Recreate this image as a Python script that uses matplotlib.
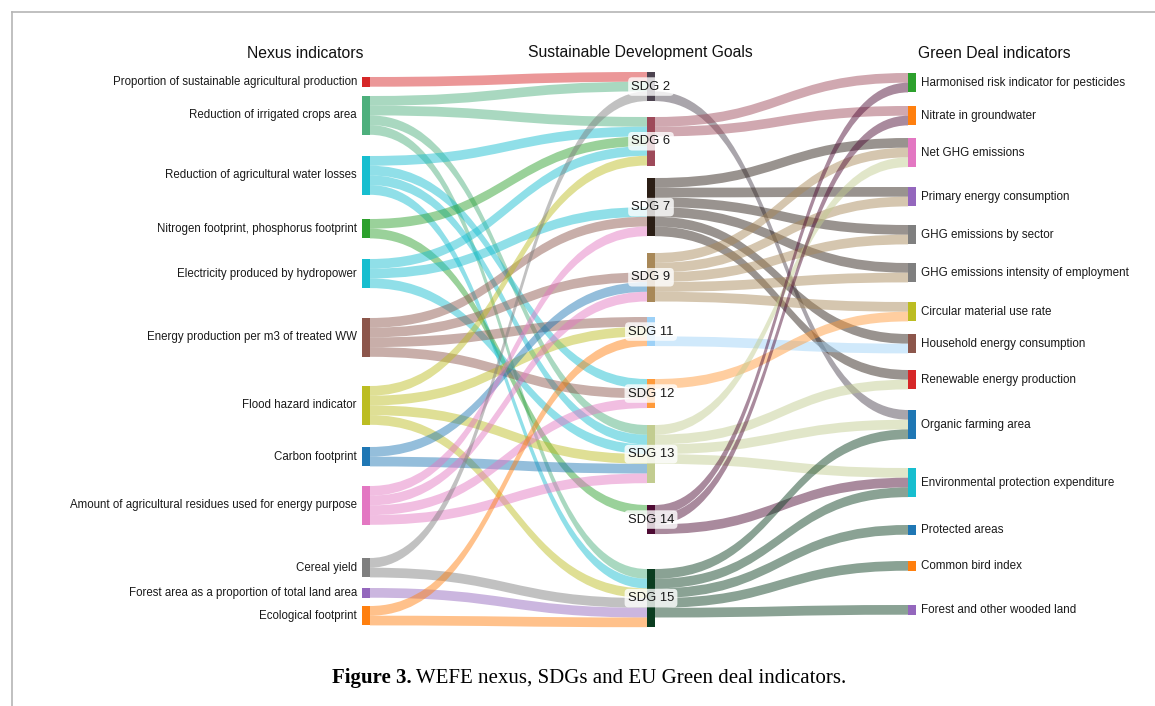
import matplotlib
matplotlib.use("Agg")
import matplotlib.pyplot as plt
from matplotlib.path import Path
from matplotlib.patches import PathPatch, Rectangle

# ---- data ----
nexus = [
    "Proportion of sustainable agricultural production",
    "Reduction of irrigated crops area",
    "Reduction of agricultural water losses",
    "Nitrogen footprint, phosphorus footprint",
    "Electricity produced by hydropower",
    "Energy production per m3 of treated WW",
    "Flood hazard indicator",
    "Carbon footprint",
    "Amount of agricultural residues used for energy purpose",
    "Cereal yield",
    "Forest area as a proportion of total land area",
    "Ecological footprint",
]
sdgs = ["SDG 2", "SDG 6", "SDG 7", "SDG 9", "SDG 11", "SDG 12", "SDG 13", "SDG 14", "SDG 15"]
green_deal = [
    "Harmonised risk indicator for pesticides",
    "Nitrate in groundwater",
    "Net GHG emissions",
    "Primary energy consumption",
    "GHG emissions by sector",
    "GHG emissions intensity of employment",
    "Circular material use rate",
    "Household energy consumption",
    "Renewable energy production",
    "Organic farming area",
    "Environmental protection expenditure",
    "Protected areas",
    "Common bird index",
    "Forest and other wooded land",
]

# nexus indicator -> SDGs it is linked to (value 1 each)
nexus_links = {
    nexus[0]: ["SDG 2"],
    nexus[1]: ["SDG 2", "SDG 6", "SDG 13", "SDG 15"],
    nexus[2]: ["SDG 6", "SDG 12", "SDG 13", "SDG 15"],
    nexus[3]: ["SDG 6", "SDG 14"],
    nexus[4]: ["SDG 6", "SDG 7", "SDG 13"],
    nexus[5]: ["SDG 7", "SDG 9", "SDG 11", "SDG 12"],
    nexus[6]: ["SDG 6", "SDG 11", "SDG 13", "SDG 15"],
    nexus[7]: ["SDG 9", "SDG 13"],
    nexus[8]: ["SDG 7", "SDG 9", "SDG 12", "SDG 13"],
    nexus[9]: ["SDG 2", "SDG 15"],
    nexus[10]: ["SDG 15"],
    nexus[11]: ["SDG 11", "SDG 15"],
}
# SDG -> green deal indicators
sdg_links = {
    "SDG 2": [green_deal[9]],
    "SDG 6": [green_deal[0], green_deal[1]],
    "SDG 7": [green_deal[2], green_deal[3], green_deal[4], green_deal[5], green_deal[7], green_deal[8]],
    "SDG 9": [green_deal[2], green_deal[3], green_deal[4], green_deal[5], green_deal[6]],
    "SDG 11": [green_deal[7]],
    "SDG 12": [green_deal[6]],
    "SDG 13": [green_deal[2], green_deal[8], green_deal[9], green_deal[10]],
    "SDG 14": [green_deal[0], green_deal[1], green_deal[10]],
    "SDG 15": [green_deal[9], green_deal[10], green_deal[11], green_deal[12], green_deal[13]],
}

# ---- style / layout ----
nexus_colors = ["#d62728", "#4daf7c", "#17becf", "#2ca02c", "#17becf", "#8c564b",
                "#bcbd22", "#1f77b4", "#e377c2", "#7f7f7f", "#9467bd", "#ff7f0e"]
sdg_colors = ["#4d4350", "#9e4a5a", "#2b1e15", "#a88858", "#9dd1f7", "#ff9a3a",
              "#c2cc90", "#4d0a33", "#0b3d20"]
green_deal_colors = ["#2ca02c", "#ff7f0e", "#e377c2", "#9467bd", "#7f7f7f", "#7f7f7f",
                     "#bcbd22", "#8c564b", "#d62728", "#1f77b4", "#17becf", "#1f77b4",
                     "#ff7f0e", "#9467bd"]
nexus_top = [77, 96, 156, 219, 259, 318, 386, 447, 486, 558, 588, 606]
sdg_top = [72, 117, 178, 253, 317, 379, 425, 505, 569]
green_deal_top = [73, 106, 138, 187, 225, 263, 302, 334, 370, 410, 468, 525, 561, 605]
col_x = [362, 647, 908]
node_w = 8
unit = 9.7
in_bottom = {"SDG 7", "SDG 9"}
out_bottom = {"SDG 2", "SDG 11"}

nodes = {}
for col, (names, cols, tops) in enumerate([(nexus, nexus_colors, nexus_top),
                                           (sdgs, sdg_colors, sdg_top),
                                           (green_deal, green_deal_colors, green_deal_top)]):
    for n, c, t in zip(names, cols, tops):
        nodes[n] = dict(col=col, color=c, top=t, ins=[], outs=[])

links = []
for group in (nexus_links, sdg_links):
    for s, targets in group.items():
        for t in targets:
            lk = dict(s=s, t=t, v=1)
            links.append(lk)
            nodes[s]["outs"].append(lk)
            nodes[t]["ins"].append(lk)

for n, d in nodes.items():
    d["h"] = max(len(d["ins"]), len(d["outs"])) * unit
    d["cy"] = d["top"] + d["h"] / 2

for n, d in nodes.items():
    outs = sorted(d["outs"], key=lambda l: nodes[l["t"]]["cy"])
    y = d["top"]
    if n in out_bottom:
        y = d["top"] + d["h"] - len(outs) * unit
    for l in outs:
        l["y0"] = y
        y += l["v"] * unit
    ins = sorted(d["ins"], key=lambda l: nodes[l["s"]]["cy"])
    y = d["top"]
    if n in in_bottom:
        y = d["top"] + d["h"] - len(ins) * unit
    for l in ins:
        l["y1"] = y
        y += l["v"] * unit

fig = plt.figure(figsize=(11.55, 7.06), dpi=100)
ax = fig.add_axes([0, 0, 1, 1])
ax.set_xlim(0, 1155)
ax.set_ylim(706, 0)
ax.axis("off")

for l in links:
    s, t = nodes[l["s"]], nodes[l["t"]]
    xa = col_x[s["col"]] + node_w
    xb = col_x[t["col"]]
    xm = (xa + xb) / 2
    w = l["v"] * unit
    ya, yb = l["y0"], l["y1"]
    verts = [(xa, ya), (xm, ya), (xm, yb), (xb, yb),
             (xb, yb + w), (xm, yb + w), (xm, ya + w), (xa, ya + w), (xa, ya)]
    codes = [Path.MOVETO, Path.CURVE4, Path.CURVE4, Path.CURVE4,
             Path.LINETO, Path.CURVE4, Path.CURVE4, Path.CURVE4, Path.CLOSEPOLY]
    ax.add_patch(PathPatch(Path(verts, codes), fc=s["color"], ec="none", alpha=0.48, zorder=1))

lab_font = "Liberation Sans"
for n, d in nodes.items():
    x = col_x[d["col"]]
    ax.add_patch(Rectangle((x, d["top"]), node_w, d["h"], fc=d["color"], ec="none", zorder=2))
    if d["col"] == 0:
        ax.text(x - 5, d["cy"], n, ha="right", va="center", fontsize=8.3,
                family=lab_font, color="#1a1a1a", zorder=3)
    elif d["col"] == 2:
        ax.text(x + node_w + 5, d["cy"], n, ha="left", va="center", fontsize=8.4,
                family=lab_font, color="#1a1a1a", zorder=3)
    else:
        ax.text(x + node_w / 2, d["cy"], n, ha="center", va="center", fontsize=9.4,
                family=lab_font, color="#1a1a1a", zorder=3,
                bbox=dict(boxstyle="round,pad=0.25,rounding_size=0.3", fc="white",
                          ec="none", alpha=0.8))

for x, txt in [(305, "Nexus indicators"), (640, "Sustainable Development Goals"),
               (994, "Green Deal indicators")]:
    ax.text(x, 53, txt, ha="center", va="center", fontsize=11.3, family=lab_font,
            color="#111111")

# frame lines of the figure panel
ax.plot([12, 1155], [12, 12], color="#b5b5b5", lw=1.2)
ax.plot([12, 12], [12, 706], color="#b5b5b5", lw=1.2)

# caption: bold label followed by normal text
t1 = ax.text(0, 678, "Figure 3.", ha="left", va="center", fontsize=15,
             family="Liberation Serif", weight="bold")
t2 = ax.text(0, 678, " WEFE nexus, SDGs and EU Green deal indicators.", ha="left",
             va="center", fontsize=15, family="Liberation Serif")
fig.canvas.draw()
r = fig.canvas.get_renderer()
w1 = t1.get_window_extent(r).width
w2 = t2.get_window_extent(r).width
x0 = 589 - (w1 + w2) / 2
t1.set_x(x0)
t2.set_x(x0 + w1)

fig.savefig("out.png", dpi=100)
